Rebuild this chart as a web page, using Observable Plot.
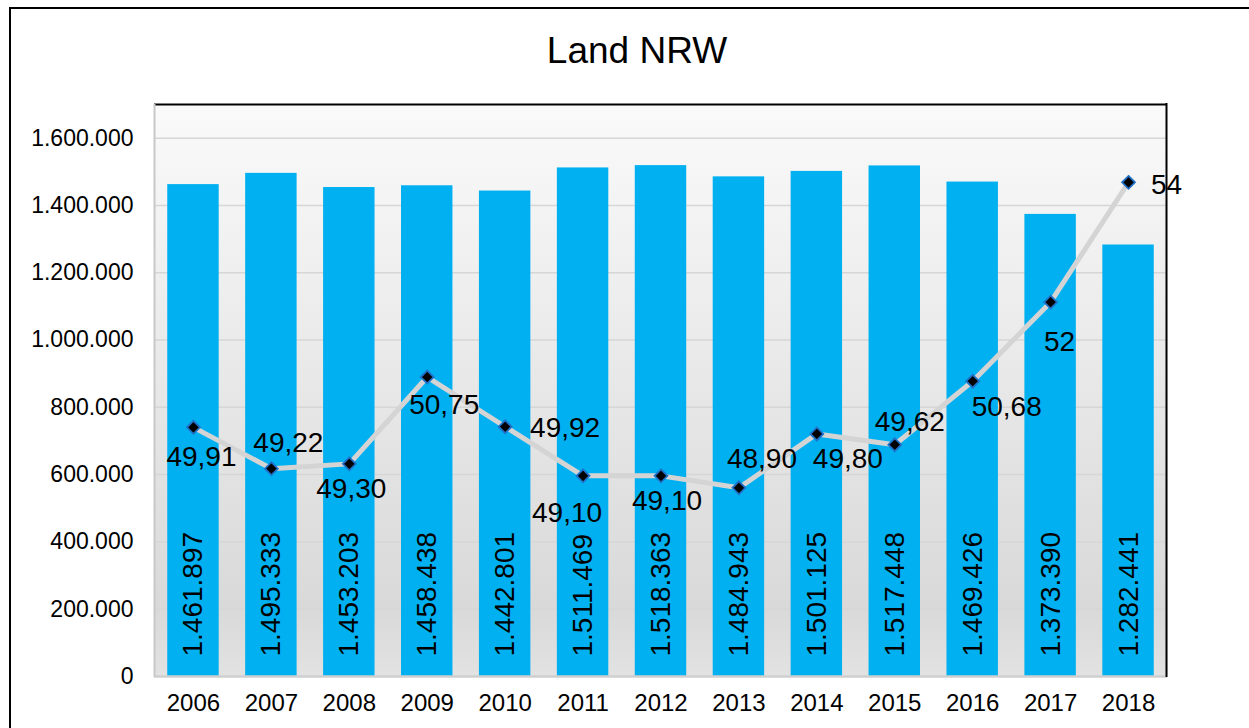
<!DOCTYPE html>
<html><head><meta charset="utf-8">
<script src="https://cdn.jsdelivr.net/npm/d3@7"></script>
<script src="https://cdn.jsdelivr.net/npm/@observablehq/plot@0.6"></script>
<style>
body{margin:0;width:1249px;height:728px;overflow:hidden;background:#fff;font-family:"Liberation Sans",Arial,sans-serif;position:relative;}
#frame{position:absolute;left:9px;top:7px;width:1320px;height:820px;border:2px solid #000;box-sizing:border-box;}
#title{position:absolute;left:0;width:1274px;top:31px;text-align:center;font-size:37px;line-height:40px;color:#000;}
#chart{position:absolute;left:0;top:90px;}
</style></head><body>
<div id="frame"></div>
<div id="title">Land NRW</div>
<div id="chart"></div>
<script>
// ---- data ----
const years = ["2006","2007","2008","2009","2010","2011","2012","2013","2014","2015","2016","2017","2018"];
const population = [1461897,1495333,1453203,1458438,1442801,1511469,1518363,1484943,1501125,1517448,1469426,1373390,1282441];
const rates = [49.91,49.22,49.30,50.75,49.92,49.10,49.10,48.90,49.80,49.62,50.68,52,54];
const yTicks = [0,200000,400000,600000,800000,1000000,1200000,1400000,1600000];

// ---- layout (label nudges in px, not data) ----
const rateLabelNudge = [[8,30],[17,-26],[2,25],[17,28],[60,1],[-16,37],[6,25],[23,-29],[31,25],[15,-23],[34,26],[9,40],[38,3]];

const yMax = 1700000;
const rateDomain = [45.75, 55.3]; // hidden secondary axis
const rateToY = d3.scaleLinear().domain(rateDomain).range([0, yMax]);

const de = d3.formatLocale({decimal: ",", thousands: ".", grouping: [3], currency: ["", "€"]});
const fmtInt = de.format(",d");
const fmtRate = v => Number.isInteger(v) ? String(v) : v.toFixed(2).replace(".", ",");

const rows = years.map((y, i) => ({year: y, pop: population[i], rate: rates[i], i}));

const font = "'Liberation Sans', Arial, sans-serif";

const rateLabels = rows.map((r, i) => Plot.text([r], {
  x: "year", y: d => rateToY(d.rate), text: d => fmtRate(d.rate),
  dx: rateLabelNudge[i][0], dy: rateLabelNudge[i][1],
  fontSize: 28, fill: "#000"
}));

const plot = Plot.plot({
  width: 1249,
  height: 638,
  marginTop: 14,
  marginBottom: 52,
  marginLeft: 154,
  marginRight: 82,
  style: {fontFamily: font, background: "transparent", color: "#000"},
  x: {domain: years, paddingInner: 0.34, paddingOuter: 0.17, round: false},
  y: {domain: [0, yMax]},
  marks: [
    Plot.frame({fill: "url(#plotBg)", stroke: "none"}),
    Plot.ruleY(yTicks.filter(d => d > 0), {stroke: "#d6d6d6", strokeWidth: 1.5}),
    Plot.barY(rows, {x: "year", y: "pop", fill: "#00B0F0"}),
    Plot.text(rows, {x: "year", y: 0, text: d => fmtInt(d.pop), rotate: -90, textAnchor: "start", dy: -20, fontSize: 28, fill: "#000"}),
    Plot.line(rows, {x: "year", y: d => rateToY(d.rate), stroke: "#d4d4d4", strokeWidth: 5}),
    Plot.dot(rows, {x: "year", y: d => rateToY(d.rate), symbol: "diamond2", r: 5.8, fill: "#000", stroke: "#2070c8", strokeWidth: 1.8}),
    ...rateLabels,
    Plot.ruleY([0], {stroke: "#cfcfcf", strokeWidth: 2.5}),
    Plot.ruleY([yMax], {stroke: "#000", strokeWidth: 2}),
    Plot.axisY({ticks: yTicks, tickFormat: fmtInt, tickSize: 0, tickPadding: 21, fontSize: 23, label: null}),
    Plot.axisX({tickSize: 0, tickPadding: 17, fontSize: 24, label: null})
  ]
});

// gradient background + side borders
const svg = d3.select(plot);
const defs = svg.insert("defs", ":first-child");
const g = defs.append("linearGradient").attr("id", "plotBg").attr("x1", 0).attr("y1", 0).attr("x2", 0).attr("y2", 1);
g.append("stop").attr("offset", "0%").attr("stop-color", "#fafafa");
g.append("stop").attr("offset", "88%").attr("stop-color", "#d9d9d9");
g.append("stop").attr("offset", "100%").attr("stop-color", "#e2e2e2");

const xs = plot.scale("x").range;
const ys = plot.scale("y").range;
svg.append("line").attr("x1", xs[0] + 0.5).attr("x2", xs[0] + 0.5).attr("y1", ys[1]).attr("y2", ys[0] + 1)
  .attr("stroke", "#c8c8c8").attr("stroke-width", 2);
svg.append("line").attr("x1", xs[1] - 0.5).attr("x2", xs[1] - 0.5).attr("y1", ys[1] - 1).attr("y2", ys[0] + 1)
  .attr("stroke", "#000").attr("stroke-width", 2);

document.getElementById("chart").appendChild(plot);
</script>
</body></html>
